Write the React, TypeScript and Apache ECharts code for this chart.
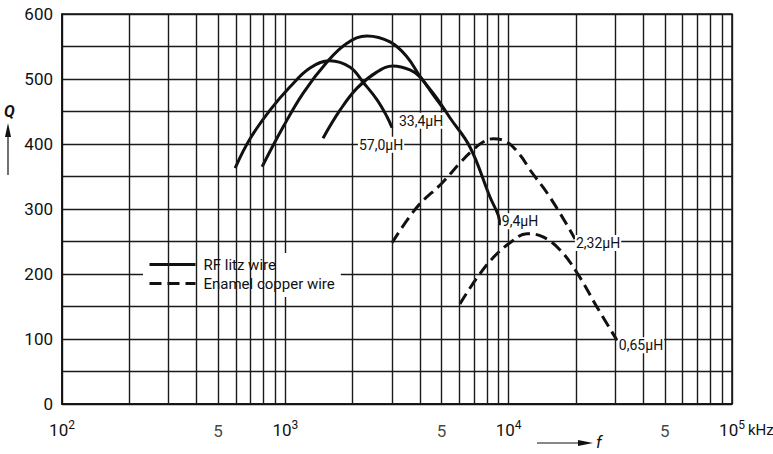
import React, { useEffect, useRef } from "react";
import * as echarts from "echarts";

const FONT = "Roboto, 'Liberation Sans', sans-serif";
const INK = "#111";

// Frequency f in kHz, quality factor Q
const litz57F = [596, 695, 854, 1050, 1290, 1585, 1950, 2230, 2575, 2853, 3005];
const litz57Q = [363, 408, 452, 488, 517, 528, 518, 495, 468, 442, 425];
const litz334F = [1475, 1757, 2094, 2575, 3035, 3615, 4010, 4585, 5190];
const litz334Q = [409, 452, 486, 511, 520, 514, 503, 476, 451];
const litz94F = [787, 977, 1200, 1537, 1889, 2321, 2943, 3508, 4010, 4777, 5465, 6717, 8257, 8970, 9150];
const litz94Q = [365, 426, 478, 526, 555, 566, 557, 534, 504, 470, 440, 395, 318, 291, 275];
const enamel232F = [3005, 3890, 5035, 6057, 6930, 7680, 8510, 9840, 11250, 12470, 15320, 19830];
const enamel232Q = [248, 303, 340, 371, 391, 403, 408, 403, 383, 360, 318, 254];
const enamel065F = [6050, 7210, 8510, 10140, 12080, 14250, 16990, 20230, 24880, 30550];
const enamel065Q = [154, 194, 225, 248, 262, 257, 237, 202, 149, 98];

const seriesNames = ["RF litz wire", "Enamel copper wire"];
const curveLabels = ["57,0µH", "33,4µH", "9,4µH", "2,32µH", "0,65µH"];

const minorMultipliers = [2, 3, 4, 5, 6, 7, 8, 9];
const decadeStarts = [100, 1000, 10000];
const fiveTicks = [500, 5000, 50000];

const zip = (f: number[], q: number[]) => f.map((v, i) => [v, q[i]]);

export default function App() {
  const ref = useRef<HTMLDivElement>(null);
  useEffect(() => {
    if (!ref.current) return;
    const chart = echarts.init(ref.current, null, { renderer: "svg" });

    const minorLines = decadeStarts.flatMap((d) =>
      minorMultipliers.map((k) => ({ xAxis: k * d }))
    );

    const gridLine = { color: "#1a1a1a", width: 1.4 };

    const labelStyle = {
      show: true,
      fontFamily: FONT,
      fontSize: 14,
      color: INK,
      backgroundColor: "#fff",
      padding: [1, 1],
    };

    const curve = (
      name: string,
      f: number[],
      q: number[],
      dashed: boolean,
      text: string,
      offset: number[]
    ) => {
      const data = zip(f, q);
      const last = data[data.length - 1];
      return {
        type: "line",
        name,
        data,
        smooth: 0.4,
        symbol: "none",
        z: 3,
        lineStyle: {
          color: INK,
          width: 3,
          type: dashed ? [12, 6] : "solid",
        },
        itemStyle: { color: INK },
        markPoint: {
          silent: true,
          symbol: "circle",
          symbolSize: 0,
          data: [
            {
              coord: last,
              label: { ...labelStyle, formatter: text, offset },
            },
          ],
        },
      };
    };

    const option: any = {
      animation: false,
      grid: {
        left: 62,
        right: 41,
        top: 14,
        bottom: 50,
        show: true,
        borderColor: INK,
        borderWidth: 1.5,
      },
      legend: {
        data: seriesNames,
        orient: "vertical",
        left: 143,
        top: 253,
        backgroundColor: "#fff",
        padding: [4, 6, 6, 5],
        itemGap: 4,
        itemWidth: 46,
        itemHeight: 15,
        selectedMode: false,
        itemStyle: { opacity: 0 },
        lineStyle: { width: 3, color: INK },
        textStyle: { fontFamily: FONT, fontSize: 15, color: INK, padding: [0, 0, 0, 3] },
      },
      xAxis: {
        type: "log",
        logBase: 10,
        min: 100,
        max: 100000,
        axisLine: { show: true, lineStyle: { color: INK, width: 1.5 } },
        axisTick: { show: false },
        splitLine: { show: true, lineStyle: gridLine },
        axisLabel: {
          margin: 15,
          color: INK,
          formatter: (v: number) => `{b|10}{s|${Math.round(Math.log10(v))}}`,
          rich: {
            b: { fontFamily: FONT, fontSize: 17, color: INK },
            s: { fontFamily: FONT, fontSize: 12, color: INK, padding: [0, 0, 10, 0] },
          },
        },
      },
      yAxis: {
        type: "value",
        min: 0,
        max: 600,
        interval: 50,
        axisLine: { show: true, lineStyle: { color: INK, width: 1.5 } },
        axisTick: { show: false },
        splitLine: { show: true, lineStyle: gridLine },
        axisLabel: {
          margin: 9,
          color: INK,
          fontFamily: FONT,
          fontSize: 17,
          formatter: (v: number) => (v % 100 === 0 ? String(v) : ""),
        },
      },
      series: [
        {
          type: "line",
          name: "grid",
          data: [],
          z: 1,
          silent: true,
          markLine: {
            silent: true,
            symbol: ["none", "none"],
            label: { show: false },
            lineStyle: { ...gridLine, type: "solid" },
            data: minorLines,
          },
        },
        {
          type: "scatter",
          name: "ticks5",
          data: fiveTicks.map((f) => [f, 0]),
          symbolSize: 0,
          silent: true,
          z: 2,
          label: {
            show: true,
            position: "bottom",
            distance: 18,
            formatter: "5",
            fontFamily: FONT,
            fontSize: 17,
            color: INK,
          },
        },
        curve(seriesNames[0], litz57F, litz57Q, false, curveLabels[0], [-11, 17]),
        curve(seriesNames[0], litz334F, litz334Q, false, curveLabels[1], [-24, 10]),
        curve(seriesNames[0], litz94F, litz94Q, false, curveLabels[2], [20, -4]),
        curve(seriesNames[1], enamel232F, enamel232Q, true, curveLabels[3], [23, 4]),
        curve(seriesNames[1], enamel065F, enamel065Q, true, curveLabels[4], [24, 5]),
      ],
      graphic: [
        {
          type: "text",
          x: 4,
          y: 103,
          style: { text: "Q", font: `italic bold 16px ${FONT}`, fill: INK },
        },
        {
          type: "line",
          shape: { x1: 8, y1: 175, x2: 8, y2: 134 },
          style: { stroke: INK, lineWidth: 1.2 },
        },
        {
          type: "polygon",
          shape: { points: [[8, 123], [5, 137], [11, 137]] },
          style: { fill: INK },
        },
        {
          type: "line",
          shape: { x1: 537, y1: 443, x2: 580, y2: 443 },
          style: { stroke: INK, lineWidth: 1.2 },
        },
        {
          type: "polygon",
          shape: { points: [[593, 443], [578, 440], [578, 446]] },
          style: { fill: INK },
        },
        {
          type: "text",
          x: 596,
          y: 433,
          style: { text: "f", font: `italic 17px ${FONT}`, fill: INK },
        },
        {
          type: "text",
          x: 748,
          y: 422,
          style: { text: "kHz", font: `15px ${FONT}`, fill: INK },
        },
      ],
    };

    chart.setOption(option);
    return () => chart.dispose();
  }, []);

  return (
    <div
      ref={ref}
      style={{ position: "fixed", left: 0, top: 0, width: 773, height: 454, background: "#fff" }}
    />
  );
}
